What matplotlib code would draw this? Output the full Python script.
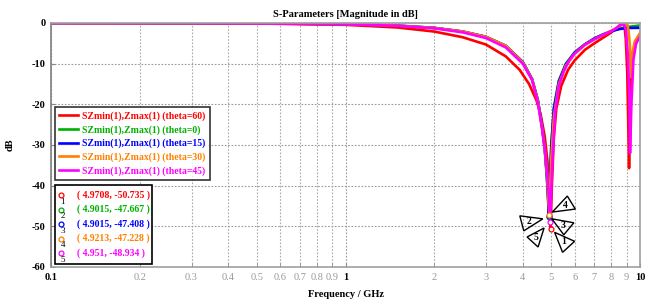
import matplotlib
matplotlib.use("Agg")
import matplotlib.pyplot as plt
import matplotlib.transforms as mtransforms
from matplotlib.patches import Polygon, Rectangle
from matplotlib.ticker import FixedLocator

plt.rcParams['font.family'] = ['Liberation Serif', 'DejaVu Serif']

# series (frequency in GHz, magnitude in dB)
labels = ["SZmin(1),Zmax(1) (theta=60)", "SZmin(1),Zmax(1) (theta=0)",
          "SZmin(1),Zmax(1) (theta=15)", "SZmin(1),Zmax(1) (theta=30)",
          "SZmin(1),Zmax(1) (theta=45)"]
colors = ["#ff0000", "#00b000", "#0000ff", "#ff8000", "#ff00ff"]

f_red = [0.1, 0.3, 0.5, 1, 1.5, 2, 2.5, 3, 3.5, 3.9, 4.2, 4.45, 4.6, 4.75, 4.85, 4.93, 4.9708,
         5.02, 5.1, 5.2, 5.4, 5.7, 6.0, 6.5, 7.0, 7.5, 8.0, 8.4, 8.7, 8.85, 8.95, 9.05, 9.12,
         9.18, 9.25, 9.35, 9.5, 9.75, 10]
db_red = [0, -0.03, -0.12, -0.45, -1.1, -2.1, -3.5, -5.3, -8.2, -11.5, -15, -19, -22.5, -28, -34,
          -43, -50.735, -40, -28, -21, -15.5, -11.5, -9.2, -6.6, -5.0, -3.6, -2.3, -1.0, -0.1,
          -0.6, -4, -12, -24, -35.7, -22, -12, -7, -4.5, -3]

f_green = [0.1, 0.3, 0.5, 1, 1.5, 2, 2.5, 3, 3.5, 4, 4.3, 4.5, 4.65, 4.75, 4.83, 4.88, 4.9015,
           4.93, 5.0, 5.1, 5.3, 5.6, 6.0, 6.5, 7.0, 7.5, 8.0, 8.5, 9.0, 9.5, 10]
db_green = [0, -0.02, -0.08, -0.28, -0.65, -1.2, -2.1, -3.4, -5.6, -9.6, -13.8, -19.0, -25.5,
            -31, -38, -44, -47.667, -41, -30, -21, -14.2, -10, -7.2, -5.2, -3.8, -2.8, -2.0,
            -1.4, -1.0, -0.8, -0.6]

f_blue = [0.1, 0.3, 0.5, 1, 1.5, 2, 2.5, 3, 3.5, 4, 4.3, 4.5, 4.65, 4.75, 4.83, 4.88, 4.9015,
          4.93, 5.0, 5.1, 5.3, 5.6, 6.0, 6.5, 7.0, 7.5, 8.0, 8.5, 9.0, 9.5, 10]
db_blue = [0, -0.02, -0.08, -0.28, -0.65, -1.2, -2.1, -3.4, -5.6, -9.6, -13.8, -19.0, -25.5,
           -31, -38, -44, -47.408, -41, -30, -21, -14.4, -10.2, -7.3, -5.3, -3.8, -2.8, -2.0,
           -1.5, -1.25, -1.2, -1.2]

f_orange = [0.1, 0.3, 0.5, 1, 1.5, 2, 2.5, 3, 3.5, 4, 4.3, 4.5, 4.65, 4.75, 4.84, 4.89, 4.9213,
            4.95, 5.0, 5.1, 5.3, 5.6, 6.0, 6.5, 7.0, 7.5, 8.0, 8.5, 8.9, 9.05, 9.15, 9.25, 9.32,
            9.4, 9.6, 10]
db_orange = [0, -0.02, -0.08, -0.28, -0.65, -1.2, -2.1, -3.4, -5.6, -9.7, -13.9, -19.2, -25.8,
             -31, -38, -44, -47.228, -41, -33, -23, -15, -10.5, -7.6, -5.4, -4.0, -2.9, -1.9,
             -0.8, -0.2, -0.3, -2, -6, -13.3, -8, -4.5, -2.5]

f_magenta = [0.1, 0.3, 0.5, 1, 1.5, 2, 2.5, 3, 3.5, 4, 4.3, 4.5, 4.65, 4.75, 4.85, 4.92, 4.951,
             4.98, 5.05, 5.15, 5.3, 5.5, 5.75, 6.0, 6.5, 7.0, 7.5, 8.0, 8.3, 8.6, 8.8, 8.95,
             9.1, 9.2, 9.25, 9.35, 9.5, 9.7, 10]
db_magenta = [0, -0.02, -0.1, -0.3, -0.7, -1.3, -2.3, -3.7, -6.0, -10.0, -14.0, -19.5, -26, -31,
              -38, -44, -48.934, -44, -33, -22, -15.5, -12, -9.2, -7.5, -5.3, -4.0, -2.9, -2.0,
              -1.3, -0.4, -0.3, -1.5, -8, -18, -32, -20, -9, -5, -3.4]

freqs = [f_red, f_green, f_blue, f_orange, f_magenta]
mags = [db_red, db_green, db_blue, db_orange, db_magenta]

# marker read-outs
marker_f = [4.9708, 4.9015, 4.9015, 4.9213, 4.951]
marker_db = [-50.735, -47.667, -47.408, -47.228, -48.934]
marker_ids = ["1", "2", "3", "4", "5"]

x_major = [0.1, 1, 10]
x_minor = [0.2, 0.3, 0.4, 0.5, 0.6, 0.7, 0.8, 0.9, 2, 3, 4, 5, 6, 7, 8, 9]
y_ticks = [0, -10, -20, -30, -40, -50, -60]

fig = plt.figure(figsize=(6.64, 3.04), dpi=100)
ax = fig.add_axes([51 / 664, 1 - 267 / 304, 589 / 664, 244 / 304])

for f, m, lab, c in zip(freqs, mags, labels, colors):
    ax.plot(f, m, color=c, lw=1.9, label=lab, solid_joinstyle="round")

ax.set_xscale("log")
ax.set_xlim(0.1, 10)
ax.set_ylim(-60, 0)

ax.xaxis.set_major_locator(FixedLocator(x_major))
ax.xaxis.set_minor_locator(FixedLocator(x_minor))
ax.set_xticklabels([str(v) for v in x_major], fontweight="bold", fontsize=7.5)
ax.set_xticks(x_minor, [str(v) for v in x_minor], minor=True, fontsize=7.5, color="#999999")
ax.set_yticks(y_ticks)
ax.set_yticklabels([str(v) for v in y_ticks], fontweight="bold", fontsize=7.5)
ax.tick_params(which="both", direction="in", length=3, color="#888888", pad=4)

ax.grid(True, which="major", ls=(0, (1.5, 1.5)), color="#999999", lw=0.8)
ax.grid(True, which="minor", axis="x", ls=(0, (1.5, 1.5)), color="#aaaaaa", lw=0.8)
for s in ax.spines.values():
    s.set_color("#a0a0a0")
    s.set_linewidth(1.2)
ax.spines["left"].set_color("#808080")

ax.set_title("S-Parameters [Magnitude in dB]", fontsize=7.5, fontweight="bold", pad=4)
ax.set_xlabel("Frequency / GHz", fontsize=7.5, fontweight="bold", labelpad=6)
ax.set_ylabel("dB", fontsize=7.5, fontweight="bold", labelpad=12)

leg = ax.legend(loc="upper left", bbox_to_anchor=(0.0068, 0.656), borderaxespad=0,
                frameon=True, fancybox=False, edgecolor="black", handlelength=1.9,
                handletextpad=0.45, borderpad=0.45, labelspacing=0.42,
                prop={"weight": "bold", "size": 7})
leg.get_frame().set_linewidth(1.2)
for t, c in zip(leg.get_texts(), colors):
    t.set_color(c)

# marker read-out box
ax.add_patch(Rectangle((0.0068, 0.012), 0.165, 0.324, transform=ax.transAxes,
                       fill=True, facecolor="white", edgecolor="black", lw=1.2, zorder=5))
for i in range(5):
    yy = 0.295 - i * 0.0595
    ax.plot([0.017], [yy], transform=ax.transAxes, marker="o", ms=3.5, mfc="white",
            mec=colors[i], mew=0.9, zorder=6, clip_on=False)
    ax.text(0.020, yy - 0.027, marker_ids[i], transform=ax.transAxes, fontsize=6.5,
            color="black", ha="center", va="center", zorder=6)
    ax.text(0.044, yy, "( %s, %s )" % (marker_f[i], marker_db[i]), transform=ax.transAxes,
            fontsize=7, fontweight="bold", color=colors[i], va="center", zorder=6)

# markers on the curves
for f, d, c in zip(marker_f, marker_db, colors):
    ax.plot([f], [d], marker="o", ms=3.5, mfc="white", mec=c, mew=0.9, zorder=7)

# triangular marker flags (pixel offsets from each marker, y up)
flags = {
    "1": [(4, -3), (24, -12), (12, -23)],
    "2": [(-29, 1), (-6, -2), (-25, -14)],
    "3": [(3, -3), (25, -7), (15, -19)],
    "4": [(3, 3), (18, 19), (26, 6)],
    "5": [(-23, -15), (-6, -6), (-12, -25)],
}
fig.canvas.draw()
for i, mid in enumerate(marker_ids):
    px, py = ax.transData.transform((marker_f[i], marker_db[i]))
    pts = [(px + dx, py + dy) for dx, dy in flags[mid]]
    fig.add_artist(Polygon(pts, closed=True, fill=False, edgecolor="black", lw=1.0,
                           transform=mtransforms.IdentityTransform()))
    cx = sum(p[0] for p in pts) / 3
    cy = sum(p[1] for p in pts) / 3
    fig.text(cx, cy, mid, transform=mtransforms.IdentityTransform(), fontsize=7,
             fontweight="bold", ha="center", va="center")

fig.savefig("out.png", dpi=100)
